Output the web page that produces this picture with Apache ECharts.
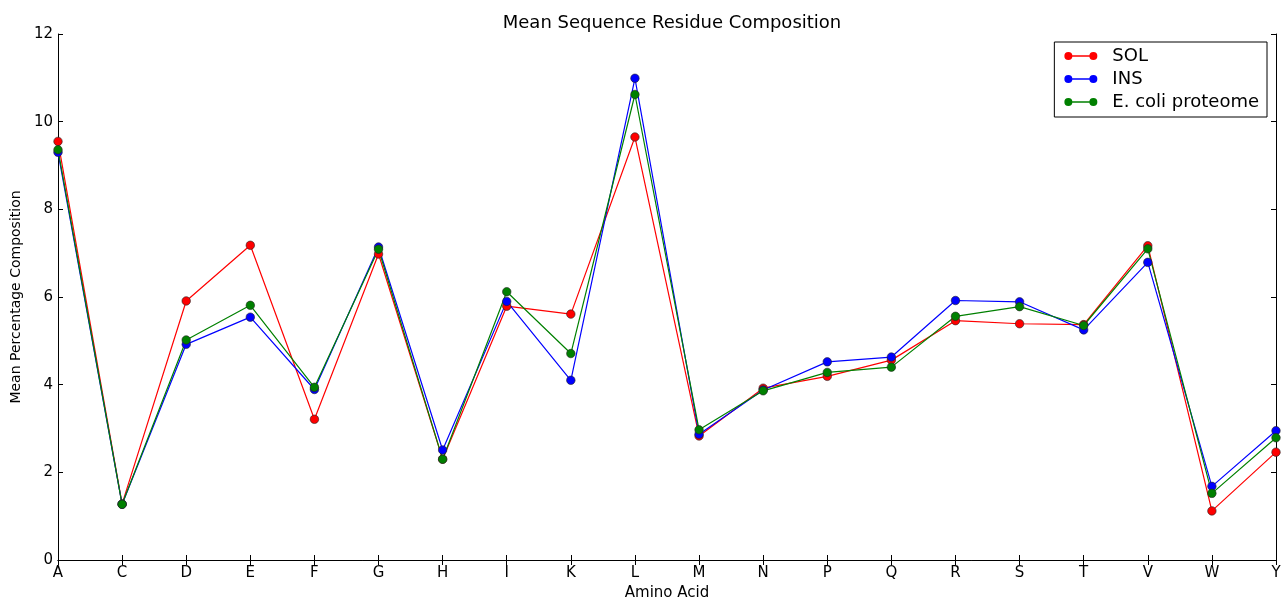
<!DOCTYPE html>
<html>
<head>
<meta charset="utf-8">
<script src="https://cdn.jsdelivr.net/npm/echarts@6/dist/echarts.min.js"></script>
<style>
  html, body { margin: 0; padding: 0; background: #fff; }
  #chart { width: 1283px; height: 599px; }
</style>
</head>
<body>
<div id="chart"></div>
<script>
const aminoAcids = ["A", "C", "D", "E", "F", "G", "H", "I", "K", "L", "M", "N", "P", "Q", "R", "S", "T", "V", "W", "Y"];
const solValues = [9.55, 1.28, 5.91, 7.18, 3.21, 6.98, 2.30, 5.79, 5.61, 9.65, 2.83, 3.92, 4.19, 4.56, 5.46, 5.39, 5.37, 7.17, 1.12, 2.46];
const insValues = [9.30, 1.27, 4.92, 5.54, 3.89, 7.14, 2.51, 5.90, 4.10, 10.99, 2.87, 3.88, 4.52, 4.63, 5.92, 5.89, 5.25, 6.79, 1.68, 2.95];
const ecoliValues = [9.36, 1.27, 5.02, 5.81, 3.94, 7.09, 2.30, 6.12, 4.71, 10.62, 2.97, 3.86, 4.28, 4.40, 5.56, 5.78, 5.35, 7.10, 1.52, 2.79];
const yTicks = [0, 2, 4, 6, 8, 10, 12];

const font = "DejaVu Sans";
// line with a dot at each end, like the matplotlib legend handle
const legendIcon = "path://M0,4A4,4,0,1,1,8,4A4,4,0,1,1,0,4Z M6,3.2L27,3.2L27,4.8L6,4.8Z M25,4A4,4,0,1,1,33,4A4,4,0,1,1,25,4Z";

function makeSeries(name, data, color) {
  return {
    name,
    type: "line",
    data,
    symbol: "circle",
    symbolSize: 8.5,
    lineStyle: { color, width: 1.2 },
    itemStyle: { color, borderColor: "#222", borderWidth: 0.6 },
    emphasis: { disabled: true },
    animation: false,
  };
}

const chart = echarts.init(document.getElementById("chart"));

const frameLine = { show: true, lineStyle: { color: "#000", width: 1 } };
const innerTick = { show: true, inside: true, length: 5, lineStyle: { color: "#000", width: 1 } };

chart.setOption({
  backgroundColor: "#fff",
  title: {
    text: "Mean Sequence Residue Composition",
    left: 667,
    textAlign: "center",
    top: 9,
    textStyle: { fontFamily: font, fontSize: 18, fontWeight: "normal", color: "#000" },
  },
  legend: {
    orient: "vertical",
    right: 16,
    top: 42,
    padding: [5, 8, 6, 10],
    itemGap: 5,
    itemWidth: 33,
    itemHeight: 8,
    icon: legendIcon,
    borderColor: "#000",
    borderWidth: 1,
    borderRadius: 0,
    itemStyle: { borderWidth: 0 },
    textStyle: { fontFamily: font, fontSize: 18, lineHeight: 18, color: "#000", padding: [0, 0, 0, 10] },
    data: ["SOL", "INS", "E. coli proteome"],
  },
  grid: { left: 58, right: 7, top: 34, bottom: 39, outerBoundsMode: "none" },
  xAxis: [
    {
      type: "category",
      data: aminoAcids,
      boundaryGap: false,
      axisLine: frameLine,
      axisTick: innerTick,
      axisLabel: { interval: 0, margin: 6, fontFamily: font, fontSize: 15, color: "#000" },
      splitLine: { show: false },
      name: "Amino Acid",
      nameLocation: "middle",
      nameGap: 26,
      nameTextStyle: { fontFamily: font, fontSize: 15, color: "#000" },
    },
    {
      type: "category",
      data: aminoAcids,
      boundaryGap: false,
      position: "top",
      axisLine: frameLine,
      axisTick: innerTick,
      axisLabel: { show: false },
      splitLine: { show: false },
    },
  ],
  yAxis: [
    {
      type: "value",
      min: yTicks[0],
      max: yTicks[yTicks.length - 1],
      interval: 2,
      axisLine: frameLine,
      axisTick: innerTick,
      axisLabel: { margin: 5, fontFamily: font, fontSize: 15, color: "#000" },
      splitLine: { show: false },
      name: "Mean Percentage Composition",
      nameLocation: "middle",
      nameGap: 30,
      nameTextStyle: { fontFamily: font, fontSize: 14, color: "#000" },
    },
    {
      type: "value",
      min: yTicks[0],
      max: yTicks[yTicks.length - 1],
      interval: 2,
      position: "right",
      axisLine: frameLine,
      axisTick: innerTick,
      axisLabel: { show: false },
      splitLine: { show: false },
    },
  ],
  series: [
    makeSeries("SOL", solValues, "#ff0000"),
    makeSeries("INS", insValues, "#0000ff"),
    makeSeries("E. coli proteome", ecoliValues, "#008000"),
  ],
});
</script>
</body>
</html>
